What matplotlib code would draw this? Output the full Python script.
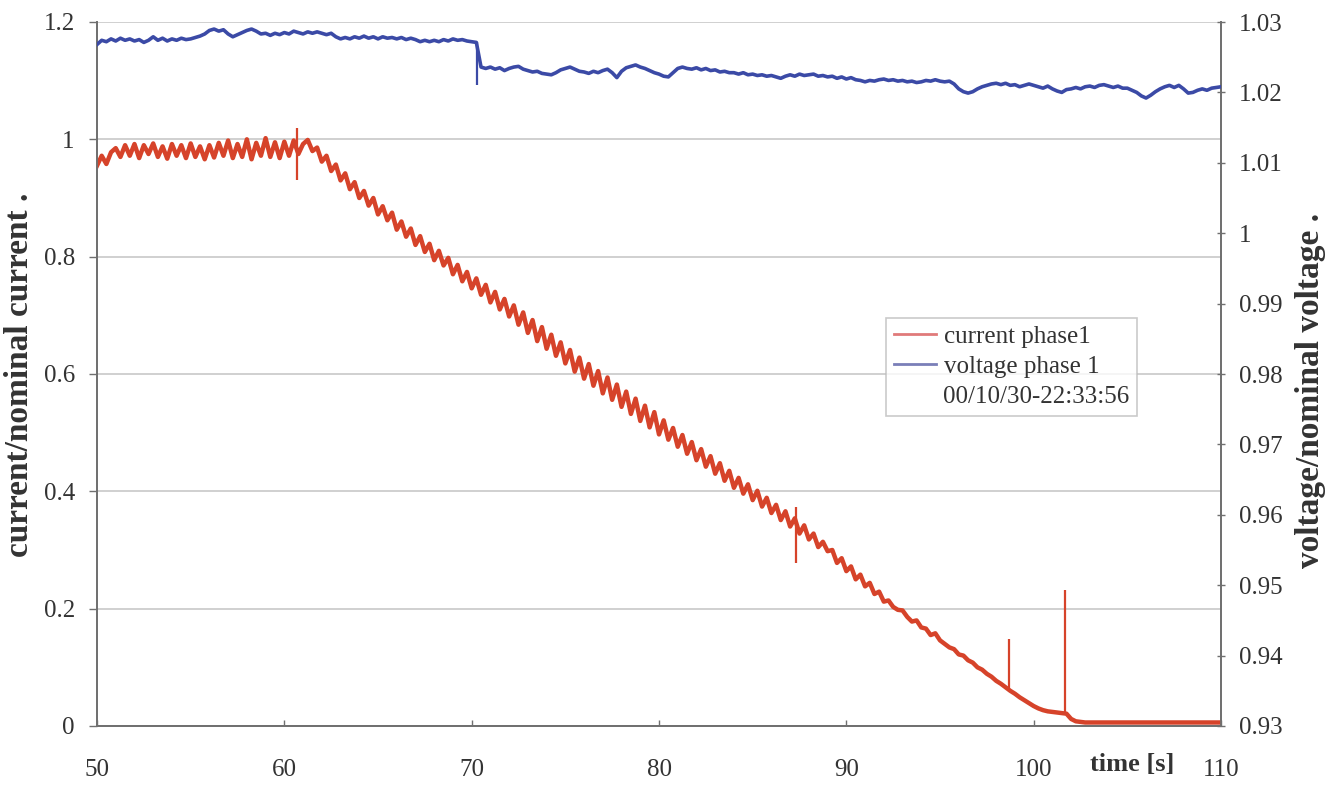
import numpy as np
import matplotlib
matplotlib.use("Agg")
import matplotlib.pyplot as plt
from matplotlib.lines import Line2D

# ---------------- data ----------------
t_start, t_end = 50, 110

current = [
    # 50 .. 61
    0.955, 0.972, 0.958, 0.978,
    0.985, 0.970, 0.990, 0.972,
    0.992, 0.968, 0.990, 0.975,
    0.993, 0.970, 0.988, 0.967,
    0.992, 0.972, 0.990, 0.968,
    0.993, 0.970, 0.988, 0.966,
    0.990, 0.969, 0.994, 0.972,
    0.998, 0.968, 0.992, 0.970,
    1.000, 0.966, 0.994, 0.972,
    1.002, 0.970, 0.995, 0.968,
    0.996, 0.972, 0.998, 0.975,
    0.992,
    # 61.25 .. 64
    0.999, 0.980, 0.986, 0.962, 0.972, 0.946, 0.957, 0.930, 0.942, 0.915, 0.927, 0.900,
    # 64.25 .. 68
    0.912, 0.887, 0.900, 0.872, 0.886, 0.862, 0.875, 0.846, 0.860, 0.834, 0.848, 0.820,
    0.835, 0.808, 0.822, 0.794,
    # 68.25 .. 72
    0.810, 0.785, 0.798, 0.770, 0.786, 0.758, 0.774, 0.746, 0.763, 0.735, 0.752, 0.722,
    0.740, 0.710, 0.728, 0.698,
    # 72.25 .. 76
    0.717, 0.684, 0.705, 0.670, 0.692, 0.656, 0.680, 0.643, 0.667, 0.631, 0.654, 0.618,
    0.641, 0.604, 0.628, 0.592,
    # 76.25 .. 80
    0.617, 0.580, 0.605, 0.567, 0.594, 0.556, 0.582, 0.544, 0.570, 0.532, 0.558, 0.520,
    0.546, 0.509, 0.535, 0.497,
    # 80.25 .. 84
    0.521, 0.488, 0.508, 0.476, 0.496, 0.464, 0.484, 0.453, 0.472, 0.442, 0.460, 0.430,
    0.448, 0.418, 0.435, 0.406,
    # 84.25 .. 88
    0.423, 0.396, 0.412, 0.385, 0.401, 0.374, 0.389, 0.363, 0.377, 0.351, 0.366, 0.340,
    0.354, 0.328, 0.342, 0.318,
    # 88.25 .. 92
    0.328, 0.305, 0.314, 0.298, 0.300, 0.278, 0.286, 0.264, 0.272, 0.250, 0.258, 0.238,
    0.244, 0.225, 0.229, 0.212,
    # 92.25 .. 96
    0.214, 0.203, 0.198, 0.197, 0.186, 0.178, 0.180, 0.168, 0.166, 0.155, 0.158, 0.146,
    0.140, 0.134, 0.131, 0.122,
    # 96.25 .. 98.75
    0.120, 0.112, 0.108, 0.100, 0.096, 0.089, 0.084, 0.077, 0.072, 0.066, 0.060,
    # 99 .. 102.5
    0.055, 0.049, 0.044, 0.039, 0.034, 0.030, 0.027, 0.025, 0.024, 0.023, 0.022, 0.021,
    0.012, 0.008, 0.007,
    # 102.75 .. 110
    0.006, 0.006, 0.006, 0.006, 0.006, 0.006, 0.006, 0.006, 0.006, 0.006,
    0.006, 0.006, 0.006, 0.006, 0.006, 0.006, 0.006, 0.006, 0.006, 0.006,
    0.006, 0.006, 0.006, 0.006, 0.006, 0.006, 0.006, 0.006, 0.006, 0.006,
]

# short spikes in the current trace
spike_t = [60.7, 87.3, 98.7, 101.65]
spike_hi = [1.020, 0.373, 0.148, 0.232]
spike_lo = [0.930, 0.278, 0.061, 0.022]

voltage = [
    1.0268, 1.0274, 1.0272, 1.0276,
    1.0273, 1.0277, 1.0274, 1.0276,
    1.0273, 1.0275, 1.0271, 1.0274,
    1.0279, 1.0274, 1.0277, 1.0273,
    1.0276, 1.0274, 1.0277, 1.0275,
    1.0276, 1.0278, 1.0280, 1.0283,
    1.0288, 1.0290, 1.0287, 1.0289,
    1.0283, 1.0279, 1.0282, 1.0285,
    1.0288, 1.0290, 1.0287, 1.0283,
    1.0284, 1.0281, 1.0284, 1.0282,
    1.0285, 1.0283, 1.0287, 1.0285,
    1.0283, 1.0286, 1.0284, 1.0286,
    1.0284, 1.0282, 1.0284, 1.0279,
    1.0276, 1.0278, 1.0276, 1.0279,
    1.0277, 1.0280, 1.0277, 1.0279,
    1.0276, 1.0279, 1.0277, 1.0278,
    1.0276, 1.0278, 1.0275, 1.0277,
    1.0275, 1.0272, 1.0274, 1.0272,
    1.0274, 1.0272, 1.0275, 1.0273,
    1.0276, 1.0274, 1.0275, 1.0273,
    1.0272, 1.0271, 1.0236, 1.0234,
    1.0236, 1.0233, 1.0235, 1.0231,
    1.0234, 1.0236, 1.0237, 1.0233,
    1.0231, 1.0229, 1.0230, 1.0227,
    1.0226, 1.0225, 1.0228, 1.0232,
    1.0234, 1.0236, 1.0233, 1.0230,
    1.0229, 1.0227, 1.0230, 1.0228,
    1.0231, 1.0233, 1.0228, 1.0221,
    1.0230, 1.0235, 1.0237, 1.0239,
    1.0236, 1.0234, 1.0231, 1.0228,
    1.0226, 1.0223, 1.0222, 1.0228,
    1.0234, 1.0236, 1.0234, 1.0233,
    1.0235, 1.0232, 1.0234, 1.0231,
    1.0232, 1.0229, 1.0230, 1.0228,
    1.0228, 1.0226, 1.0228, 1.0225,
    1.0226, 1.0224, 1.0225, 1.0223,
    1.0224, 1.0222, 1.0220, 1.0223,
    1.0225, 1.0223, 1.0226, 1.0224,
    1.0225, 1.0226, 1.0223, 1.0224,
    1.0222, 1.0223, 1.0220, 1.0222,
    1.0219, 1.0221, 1.0218, 1.0217,
    1.0215, 1.0217, 1.0216, 1.0218,
    1.0219, 1.0217, 1.0218, 1.0216,
    1.0217, 1.0215, 1.0216, 1.0214,
    1.0215, 1.0217, 1.0216, 1.0218,
    1.0216, 1.0215, 1.0216, 1.0212,
    1.0205, 1.0201, 1.0199, 1.0201,
    1.0205, 1.0208, 1.0210, 1.0212,
    1.0213, 1.0211, 1.0213, 1.0210,
    1.0211, 1.0208, 1.0210, 1.0212,
    1.0210, 1.0208, 1.0206, 1.0209,
    1.0205, 1.0202, 1.0200, 1.0204,
    1.0205, 1.0207, 1.0205, 1.0208,
    1.0209, 1.0207, 1.0210, 1.0211,
    1.0209, 1.0207, 1.0209, 1.0206,
    1.0206, 1.0203, 1.0200, 1.0195,
    1.0192, 1.0196, 1.0201, 1.0205,
    1.0208, 1.0210, 1.0207, 1.0210,
    1.0205, 1.0199, 1.0200, 1.0203,
    1.0205, 1.0203, 1.0206, 1.0207,
    1.0208,
]

# voltage step spike
vspike_t = [70.3]
vspike_hi = [1.0272]
vspike_lo = [1.0210]

x_ticks = [50, 60, 70, 80, 90, 100, 110]
x_labels = ["50", "60", "70", "80", "90", "100", "110"]
left_ticks = [0, 0.2, 0.4, 0.6, 0.8, 1.0, 1.2]
left_labels = ["0", "0.2", "0.4", "0.6", "0.8", "1", "1.2"]
right_ticks = [0.93, 0.94, 0.95, 0.96, 0.97, 0.98, 0.99, 1.00, 1.01, 1.02, 1.03]
right_labels = ["0.93", "0.94", "0.95", "0.96", "0.97", "0.98", "0.99", "1", "1.01", "1.02", "1.03"]

legend_labels = ["current phase1", "voltage phase 1", "00/10/30-22:33:56"]
xlabel = "time [s]"
ylabel_left = "current/nominal current ."
ylabel_right = "voltage/nominal voltage ."

# ---------------- style ----------------
RED = "#d6432a"
RED_LEG = "#e07a7a"
BLUE = "#3b4aa6"
BLUE_LEG = "#7a7fb8"
TXT = "#333333"
SPINE = "#707070"
GRID = "#c8c8c8"

plt.rcParams["font.family"] = ["Liberation Serif", "DejaVu Serif"]

fig = plt.figure(figsize=(13.26, 7.85), dpi=100)
ax = fig.add_axes([97 / 1326, 1 - 726 / 785, (1221 - 97) / 1326, (726 - 22) / 785])
ax2 = ax.twinx()

t_cur = np.linspace(t_start, t_end, len(current))
t_vol = np.linspace(t_start, t_end, len(voltage))

ax.plot(t_cur, current, color=RED, lw=3.2, solid_joinstyle="round", zorder=3)
ax.vlines(spike_t, spike_lo, spike_hi, color=RED, lw=1.6, zorder=3)
ax2.plot(t_vol, voltage, color=BLUE, lw=2.6, solid_joinstyle="round", zorder=3)
ax2.vlines(vspike_t, vspike_lo, vspike_hi, color=BLUE, lw=1.6, zorder=3)

ax.set_xlim(t_start, t_end)
ax.set_ylim(0, 1.2)
ax2.set_ylim(0.93, 1.03)

ax.set_yticks(left_ticks)
ax.set_yticklabels(left_labels)
ax.set_xticks(x_ticks)
ax.set_xticklabels(x_labels)
ax2.set_yticks(right_ticks)
ax2.set_yticklabels(right_labels)

ax.yaxis.grid(True, color=GRID, lw=1.2)
ax.set_axisbelow(True)

for a in (ax, ax2):
    for s in a.spines.values():
        s.set_color(SPINE)
        s.set_linewidth(1.3)
    a.spines["top"].set_visible(False)

ax.tick_params(axis="y", labelsize=18, colors=SPINE, labelcolor=TXT, length=6, pad=10, width=1)
ax.tick_params(axis="x", labelsize=18, colors=SPINE, labelcolor=TXT, length=4, pad=24,
               direction="in", width=1)
ax2.tick_params(axis="y", labelsize=18, colors=SPINE, labelcolor=TXT, length=6, pad=10,
                direction="inout", width=1)

fig.text(20 / 1326, 1 - 375 / 785, ylabel_left, rotation=90, ha="center", va="center",
         fontsize=24, fontweight="bold", color=TXT)
fig.text(1310 / 1326, 1 - 390 / 785, ylabel_right, rotation=90, ha="center", va="center",
         fontsize=24, fontweight="bold", color=TXT)
fig.text(1132 / 1326, 1 - 765 / 785, xlabel, ha="center", va="center",
         fontsize=19, fontweight="bold", color=TXT)

handles = [Line2D([], [], color=RED_LEG, lw=2),
           Line2D([], [], color=BLUE_LEG, lw=2),
           Line2D([], [], color="none", lw=0)]
leg = ax.legend(handles, legend_labels, loc="upper left",
                bbox_to_anchor=((886 - 97) / 1124, (726 - 318) / 704),
                fontsize=18, frameon=True, fancybox=False, handlelength=1.7,
                handletextpad=0.3, borderpad=0.3, labelspacing=0.3,
                borderaxespad=0)
leg.get_frame().set_edgecolor("#bdbdbd")
leg.get_frame().set_linewidth(1.2)
for txt in leg.get_texts():
    txt.set_color(TXT)
leg.set_zorder(5)

fig.savefig("out.png", dpi=100)
